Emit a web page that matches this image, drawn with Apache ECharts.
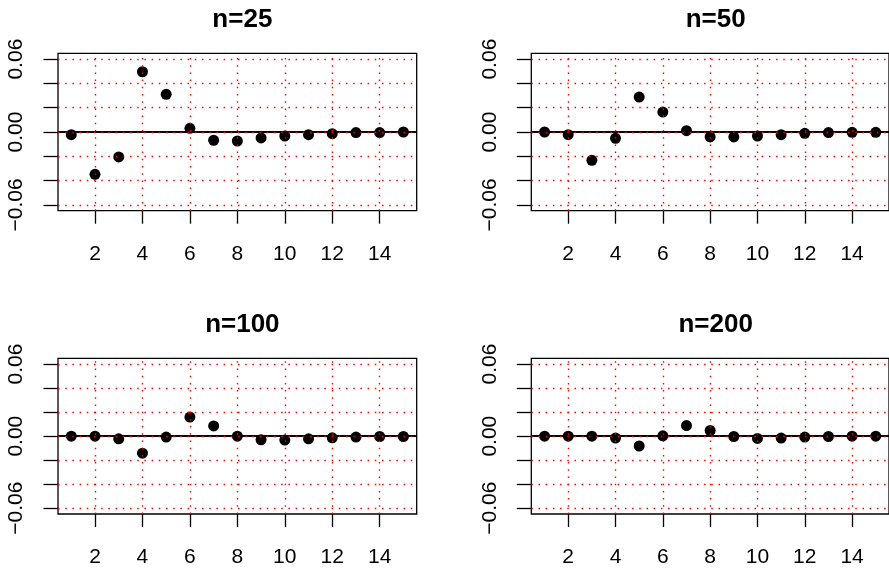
<!DOCTYPE html>
<html>
<head>
<meta charset="utf-8">
<script src="https://cdn.jsdelivr.net/npm/echarts@6/dist/echarts.min.js"></script>
<style>
html,body{margin:0;padding:0;background:#fff;}
#main{width:889px;height:568px;}
</style>
</head>
<body>
<div id="main"></div>
<script>
// ---- data ----
const lags = [1,2,3,4,5,6,7,8,9,10,11,12,13,14,15];
const acfN25  = [-0.0022,-0.0348,-0.0205,0.0496,0.0310,0.0030,-0.0068,-0.0074,-0.0049,-0.0033,-0.0022,-0.0014,-0.0005,-0.0005,0.0000];
const acfN50  = [0.0000,-0.0022,-0.0233,-0.0052,0.0288,0.0164,0.0011,-0.0041,-0.0041,-0.0033,-0.0022,-0.0011,-0.0005,-0.0003,-0.0003];
const acfN100 = [0.0000,0.0000,-0.0022,-0.0142,-0.0008,0.0159,0.0085,0.0000,-0.0030,-0.0033,-0.0022,-0.0014,-0.0008,-0.0003,-0.0003];
const acfN200 = [0.0000,0.0000,0.0000,-0.0016,-0.0082,0.0003,0.0088,0.0047,-0.0003,-0.0019,-0.0016,-0.0008,-0.0003,0.0000,0.0000];
const panelTitles = ['n=25','n=50','n=100','n=200'];
const xTicks = [2,4,6,8,10,12,14];
const yTicks = [-0.06,-0.04,-0.02,0,0.02,0.04,0.06];
const yLabelValues = [-0.06,0,0.06];

const panels = [acfN25, acfN50, acfN100, acfN200];
const FONT = 'Liberation Sans, Arial, Helvetica, sans-serif';

const gridPos = [
  {left:58, top:53.3},
  {left:531.3, top:53.3},
  {left:58, top:358.3},
  {left:531.3, top:358.3}
];
const GW = 358.7, GH = 157.4;

const grids = [], xAxes = [], yAxes = [], series = [], titles = [];
gridPos.forEach((g, i) => {
  grids.push({left:g.left, top:g.top, width:GW, height:GH, show:true,
    borderColor:'#000', borderWidth:1.3, backgroundColor:'transparent'});
  titles.push({text:panelTitles[i], left:g.left + GW/2, top:g.top - 51, textAlign:'center',
    textStyle:{fontFamily:FONT, fontWeight:'bold', fontSize:26, color:'#000'}});
  xAxes.push({type:'value', gridIndex:i, min:0.44, max:15.56, position:'bottom',
    axisLine:{show:false, onZero:false}, splitLine:{show:false},
    axisTick:{show:true, inside:false, length:13, customValues:xTicks, lineStyle:{color:'#000', width:1.3}},
    axisLabel:{show:true, customValues:xTicks, margin:33, fontFamily:FONT, fontSize:21, color:'#000'}});
  yAxes.push({type:'value', gridIndex:i, min:-0.0648, max:0.0648, position:'left',
    axisLine:{show:false, onZero:false}, splitLine:{show:false},
    axisTick:{show:true, inside:false, length:14.5, customValues:yTicks, lineStyle:{color:'#000', width:1.3}},
    axisLabel:{show:true, customValues:yLabelValues, rotate:90, margin:31, fontFamily:FONT, fontSize:21, color:'#000',
      formatter:v => (v < 0 ? '\u2212' : '') + Math.abs(v).toFixed(2)}});
  series.push({type:'scatter', xAxisIndex:i, yAxisIndex:i, z:2,
    data:lags.map((x, k) => [x, panels[i][k]]),
    symbol:'circle', symbolSize:11, itemStyle:{color:'#000', opacity:1}, silent:true});
  const lineData = [{yAxis:0, lineStyle:{type:'solid', color:'#000', width:2}}];
  xTicks.forEach(v => lineData.push({xAxis:v}));
  yTicks.forEach(v => lineData.push({yAxis:v}));
  series.push({type:'line', xAxisIndex:i, yAxisIndex:i, z:3, data:[], silent:true,
    markLine:{silent:true, symbol:['none','none'], label:{show:false}, animation:false,
      lineStyle:{type:[1.5,5.7], color:'#ff0000', width:1.4},
      emphasis:{disabled:true},
      data:lineData}});
});

const chart = echarts.init(document.getElementById('main'), null, {renderer:'canvas'});
chart.setOption({
  animation:false,
  backgroundColor:'#fff',
  title:titles,
  grid:grids,
  xAxis:xAxes,
  yAxis:yAxes,
  series:series
});
</script>
</body>
</html>
